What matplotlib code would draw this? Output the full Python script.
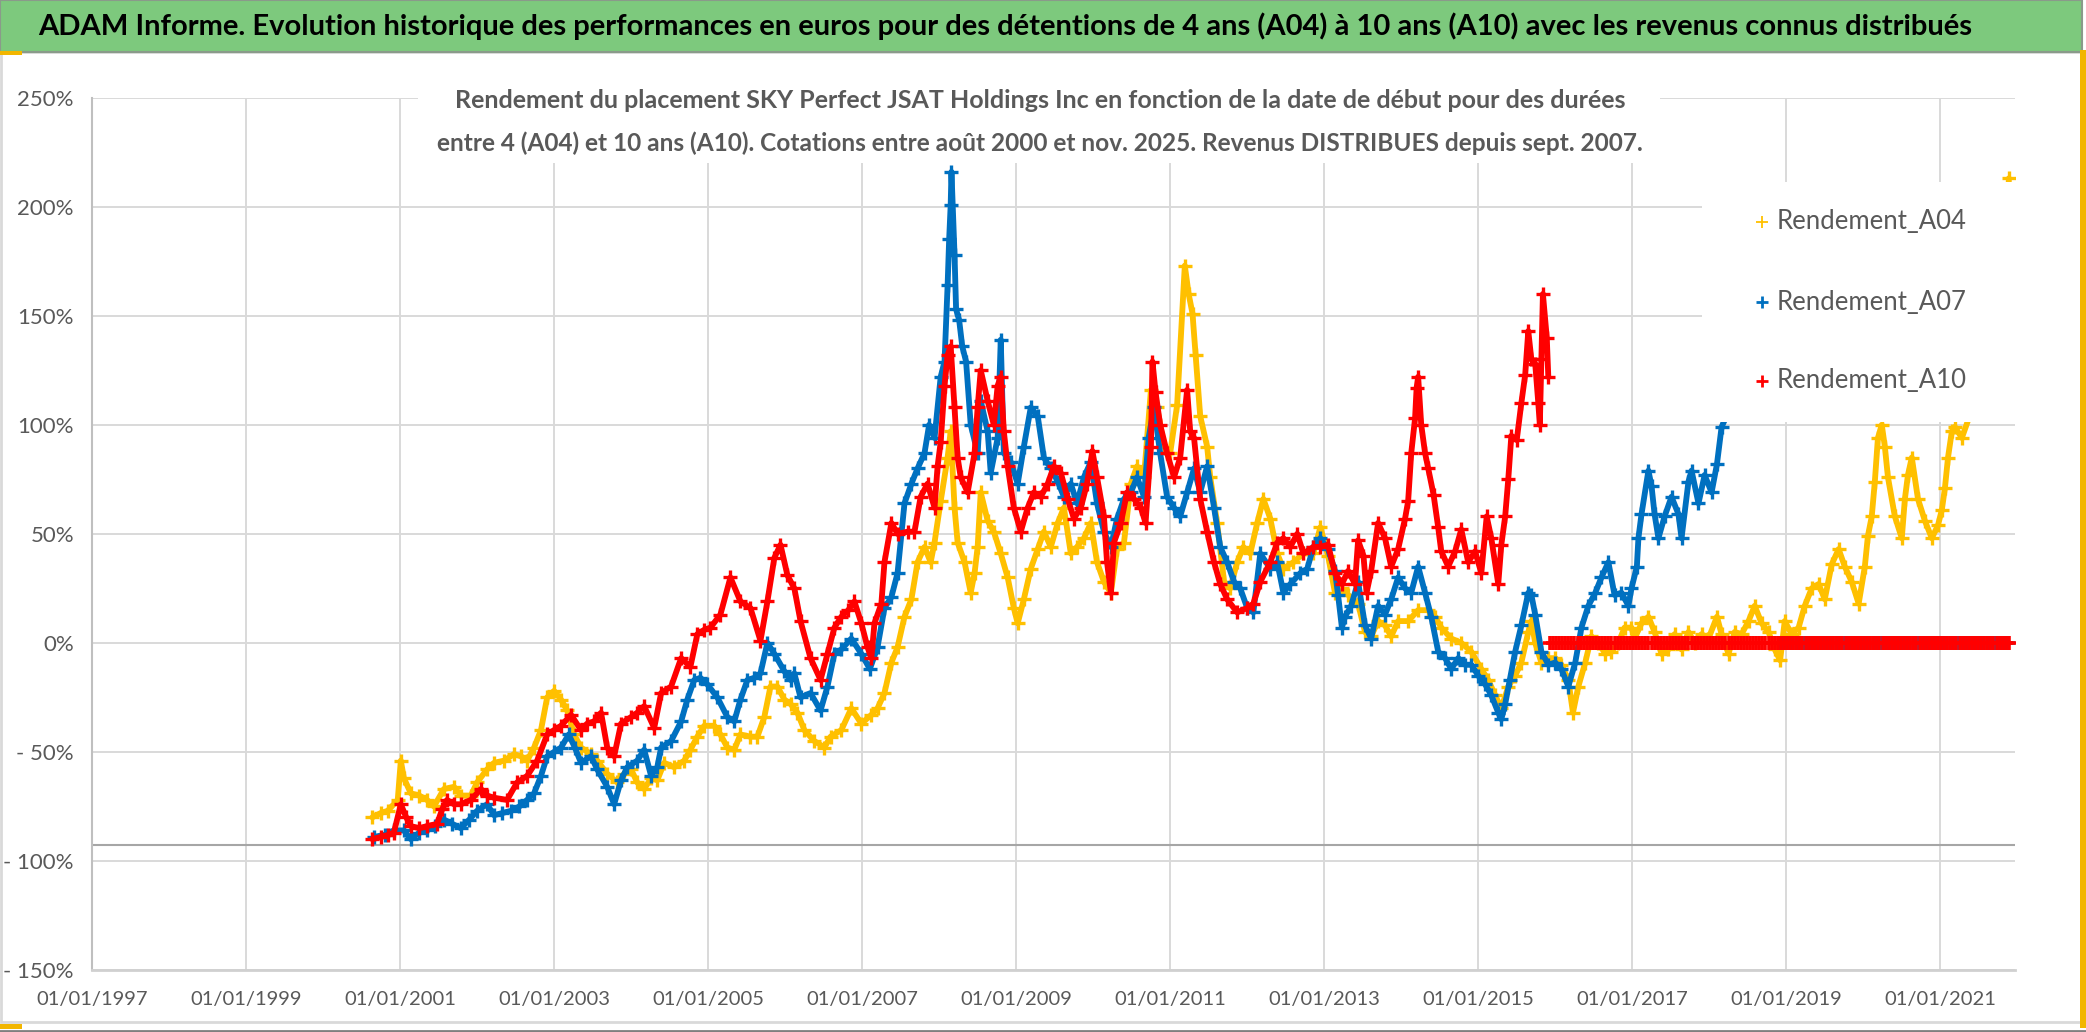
import matplotlib
matplotlib.use('Agg')
import matplotlib.pyplot as plt
from matplotlib.patches import Rectangle
from matplotlib.lines import Line2D
import numpy as np

# ---------------- data (decimal years, % return) ----------------
a04_year = [2000.64, 2000.75, 2000.84, 2000.97, 2001.01, 2001.05, 2001.14, 2001.25, 2001.35, 2001.44,
            2001.57, 2001.70, 2001.79, 2001.92, 2002.00, 2002.13, 2002.22, 2002.35, 2002.48, 2002.57,
            2002.65, 2002.74, 2002.83, 2002.91, 2003.00, 2003.09, 2003.17, 2003.26, 2003.35, 2003.48,
            2003.56, 2003.69, 2003.82, 2003.91, 2004.00, 2004.08, 2004.17, 2004.26, 2004.34, 2004.43,
            2004.56, 2004.69, 2004.77, 2004.86, 2004.95, 2005.08, 2005.16, 2005.25, 2005.34, 2005.42,
            2005.55, 2005.64, 2005.73, 2005.81, 2005.90, 2005.99, 2006.07, 2006.16, 2006.25, 2006.38,
            2006.51, 2006.59, 2006.73, 2006.86, 2006.99, 2007.12, 2007.20, 2007.29, 2007.38, 2007.46,
            2007.55, 2007.64, 2007.72, 2007.81, 2007.89, 2007.94, 2008.02, 2008.11, 2008.15, 2008.20,
            2008.24, 2008.33, 2008.41, 2008.46, 2008.50, 2008.54, 2008.63, 2008.71, 2008.80, 2008.89,
            2008.97, 2009.02, 2009.10, 2009.19, 2009.28, 2009.36, 2009.45, 2009.54, 2009.62, 2009.71,
            2009.79, 2009.88, 2009.97, 2010.05, 2010.14, 2010.23, 2010.31, 2010.40, 2010.49, 2010.57,
            2010.66, 2010.75, 2010.83, 2010.92, 2011.00, 2011.09, 2011.19, 2011.24, 2011.29, 2011.33,
            2011.39, 2011.48, 2011.52, 2011.61, 2011.70, 2011.78, 2011.87, 2011.95, 2012.04, 2012.13,
            2012.21, 2012.30, 2012.39, 2012.47, 2012.60, 2012.73, 2012.86, 2012.95, 2013.05, 2013.14,
            2013.23, 2013.31, 2013.44, 2013.53, 2013.61, 2013.70, 2013.79, 2013.87, 2013.96, 2014.09,
            2014.22, 2014.35, 2014.44, 2014.52, 2014.65, 2014.78, 2014.91, 2015.04, 2015.13, 2015.22,
            2015.30, 2015.39, 2015.48, 2015.56, 2015.65, 2015.69, 2015.74, 2015.82, 2015.91, 2016.00,
            2016.08, 2016.17, 2016.23, 2016.30, 2016.39, 2016.47, 2016.56, 2016.65, 2016.73, 2016.82,
            2016.90, 2016.99, 2017.03, 2017.12, 2017.21, 2017.29, 2017.38, 2017.47, 2017.55, 2017.64,
            2017.73, 2017.81, 2017.90, 2017.99, 2018.10, 2018.16, 2018.25, 2018.33, 2018.42, 2018.51,
            2018.59, 2018.68, 2018.77, 2018.85, 2018.92, 2018.98, 2019.07, 2019.16, 2019.24, 2019.33,
            2019.42, 2019.50, 2019.59, 2019.68, 2019.76, 2019.85, 2019.94, 2020.02, 2020.06, 2020.11,
            2020.15, 2020.19, 2020.24, 2020.28, 2020.32, 2020.41, 2020.50, 2020.54, 2020.58, 2020.63,
            2020.71, 2020.80, 2020.89, 2020.97, 2021.02, 2021.06, 2021.10, 2021.15, 2021.19, 2021.28,
            2021.40, 2021.55, 2021.70, 2021.80, 2021.89]
a04_value = [-80, -78, -77, -72, -54, -62, -69, -70, -72, -75,
             -67, -66, -70, -70, -64, -58, -55, -54, -51, -52,
             -54, -48, -40, -25, -22, -26, -31, -42, -48, -51,
             -54, -60, -64, -60, -58, -64, -67, -62, -63, -55,
             -57, -54, -49, -43, -38, -38, -42, -48, -49, -42,
             -43, -43, -34, -20, -20, -26, -28, -32, -40, -45,
             -48, -43, -40, -30, -37, -33, -30, -23, -9, -2,
             12, 20, 37, 44, 37, 46, 65, 85, 97, 62,
             46, 37, 23, 32, 44, 69, 56, 51, 41, 30,
             16, 9, 20, 34, 43, 51, 44, 55, 62, 41,
             44, 48, 55, 37, 28, 23, 43, 46, 73, 81,
             76, 116, 108, 90, 87, 109, 173, 160, 151, 132,
             104, 90, 76, 55, 28, 25, 37, 44, 41, 55,
             66, 57, 41, 34, 37, 41, 41, 53, 40, 23,
             25, 22, 18, 5, 3, 10, 8, 3, 10, 10,
             15, 15, 12, 7, 2, 0, -4, -12, -17, -24,
             -30, -20, -15, -9, 5, 10, 0, -9, -7, -7,
             -10, -17, -32, -20, -9, 3, 0, -5, -4, 0,
             7, 7, 2, 9, 12, 5, -5, -3, 4, -3,
             5, 0, 4, 2, 12, 4, -5, 5, 4, 10,
             17, 9, 5, -3, -8, 10, 4, 7, 17, 25,
             27, 20, 36, 43, 35, 28, 18, 35, 49, 58,
             74, 94, 100, 90, 76, 58, 48, 66, 77, 85,
             66, 56, 48, 54, 61, 71, 85, 97, 99, 94,
             106, 115, 110, 118, 213]

a07_year = [2000.66, 2000.80, 2000.92, 2001.05, 2001.14, 2001.25, 2001.35, 2001.46, 2001.57, 2001.68,
            2001.79, 2001.90, 2002.00, 2002.13, 2002.22, 2002.33, 2002.44, 2002.55, 2002.65, 2002.74,
            2002.83, 2002.91, 2003.00, 2003.09, 2003.19, 2003.27, 2003.35, 2003.48, 2003.56, 2003.69,
            2003.78, 2003.87, 2003.95, 2004.08, 2004.17, 2004.26, 2004.34, 2004.39, 2004.52, 2004.65,
            2004.73, 2004.82, 2004.90, 2004.99, 2005.12, 2005.25, 2005.34, 2005.42, 2005.51, 2005.60,
            2005.68, 2005.77, 2005.86, 2005.99, 2006.07, 2006.12, 2006.20, 2006.33, 2006.46, 2006.55,
            2006.64, 2006.73, 2006.86, 2006.99, 2007.10, 2007.20, 2007.29, 2007.38, 2007.46, 2007.55,
            2007.64, 2007.72, 2007.81, 2007.87, 2007.94, 2008.02, 2008.07, 2008.11, 2008.13, 2008.15,
            2008.16, 2008.20, 2008.22, 2008.26, 2008.30, 2008.35, 2008.41, 2008.50, 2008.54, 2008.63,
            2008.67, 2008.76, 2008.80, 2008.84, 2008.93, 2009.02, 2009.10, 2009.19, 2009.28, 2009.36,
            2009.45, 2009.54, 2009.62, 2009.71, 2009.79, 2009.88, 2009.97, 2010.05, 2010.14, 2010.23,
            2010.31, 2010.40, 2010.49, 2010.57, 2010.66, 2010.72, 2010.79, 2010.87, 2010.96, 2011.05,
            2011.13, 2011.22, 2011.31, 2011.39, 2011.48, 2011.57, 2011.65, 2011.74, 2011.83, 2011.91,
            2012.00, 2012.08, 2012.17, 2012.30, 2012.39, 2012.47, 2012.56, 2012.69, 2012.78, 2012.86,
            2012.95, 2013.05, 2013.14, 2013.18, 2013.23, 2013.27, 2013.35, 2013.44, 2013.53, 2013.61,
            2013.70, 2013.79, 2013.87, 2013.96, 2014.05, 2014.13, 2014.22, 2014.31, 2014.39, 2014.48,
            2014.57, 2014.65, 2014.74, 2014.83, 2014.91, 2015.00, 2015.09, 2015.17, 2015.26, 2015.30,
            2015.35, 2015.41, 2015.48, 2015.56, 2015.65, 2015.69, 2015.74, 2015.82, 2015.91, 2016.00,
            2016.08, 2016.17, 2016.26, 2016.34, 2016.43, 2016.52, 2016.60, 2016.69, 2016.77, 2016.86,
            2016.95, 2016.99, 2017.06, 2017.08, 2017.12, 2017.21, 2017.25, 2017.29, 2017.34, 2017.42,
            2017.51, 2017.60, 2017.64, 2017.73, 2017.77, 2017.86, 2017.94, 2018.03, 2018.10, 2018.16,
            2018.30, 2018.45, 2018.60, 2018.75, 2018.88]
a07_value = [-89, -88, -86, -86, -90, -87, -86, -84, -81, -83,
             -85, -81, -77, -74, -79, -78, -77, -75, -72, -69,
             -61, -52, -50, -48, -42, -48, -55, -52, -58, -66,
             -74, -63, -57, -54, -49, -61, -57, -48, -45, -36,
             -26, -17, -16, -19, -25, -34, -36, -26, -17, -16,
             -14, 0, -5, -13, -17, -14, -25, -23, -31, -20,
             -5, -3, 2, -5, -12, -2, 16, 21, 32, 64,
             73, 80, 87, 100, 94, 122, 129, 164, 185, 201,
             216, 178, 153, 148, 136, 129, 100, 87, 111, 97,
             78, 94, 139, 87, 83, 73, 90, 108, 104, 85,
             80, 74, 67, 73, 64, 76, 83, 64, 51, 44,
             57, 66, 69, 76, 67, 94, 108, 87, 67, 62,
             58, 69, 80, 69, 81, 62, 44, 37, 28, 25,
             16, 14, 41, 34, 37, 23, 27, 32, 34, 44,
             48, 43, 33, 22, 7, 12, 17, 28, 8, 2,
             17, 13, 20, 30, 25, 23, 35, 23, 12, -4,
             -7, -12, -7, -10, -10, -15, -19, -24, -32, -35,
             -28, -17, -4, 8, 23, 22, 13, -4, -10, -9,
             -12, -20, -9, 7, 17, 23, 30, 37, 22, 23,
             17, 25, 35, 48, 59, 79, 72, 59, 48, 58,
             67, 59, 48, 74, 79, 64, 77, 69, 82, 99,
             110, 115, 112, 118, 115]

a10_year = [2000.64, 2000.75, 2000.85, 2000.92, 2001.01, 2001.08, 2001.14, 2001.25, 2001.35, 2001.48,
            2001.55, 2001.61, 2001.70, 2001.79, 2001.92, 2002.05, 2002.13, 2002.22, 2002.39, 2002.52,
            2002.65, 2002.78, 2002.91, 2003.00, 2003.09, 2003.22, 2003.35, 2003.43, 2003.52, 2003.61,
            2003.69, 2003.78, 2003.87, 2004.00, 2004.08, 2004.17, 2004.30, 2004.39, 2004.52, 2004.65,
            2004.77, 2004.86, 2004.95, 2005.03, 2005.16, 2005.29, 2005.42, 2005.55, 2005.68, 2005.77,
            2005.86, 2005.94, 2006.03, 2006.12, 2006.20, 2006.33, 2006.46, 2006.55, 2006.64, 2006.73,
            2006.82, 2006.90, 2006.99, 2007.07, 2007.12, 2007.16, 2007.25, 2007.29, 2007.38, 2007.46,
            2007.59, 2007.68, 2007.76, 2007.85, 2007.94, 2007.98, 2008.02, 2008.07, 2008.11, 2008.15,
            2008.20, 2008.24, 2008.28, 2008.37, 2008.46, 2008.50, 2008.54, 2008.63, 2008.71, 2008.76,
            2008.80, 2008.84, 2008.89, 2008.97, 2009.06, 2009.15, 2009.23, 2009.32, 2009.41, 2009.49,
            2009.58, 2009.67, 2009.75, 2009.84, 2009.92, 2009.99, 2010.05, 2010.14, 2010.18, 2010.23,
            2010.27, 2010.36, 2010.44, 2010.53, 2010.62, 2010.68, 2010.75, 2010.77, 2010.81, 2010.87,
            2010.96, 2011.05, 2011.13, 2011.22, 2011.26, 2011.31, 2011.39, 2011.48, 2011.57, 2011.65,
            2011.74, 2011.87, 2012.00, 2012.08, 2012.17, 2012.30, 2012.39, 2012.47, 2012.56, 2012.65,
            2012.73, 2012.86, 2012.95, 2013.05, 2013.14, 2013.23, 2013.31, 2013.40, 2013.44, 2013.51,
            2013.55, 2013.61, 2013.70, 2013.79, 2013.87, 2013.96, 2014.05, 2014.09, 2014.13, 2014.18,
            2014.20, 2014.22, 2014.26, 2014.31, 2014.35, 2014.42, 2014.48, 2014.52, 2014.61, 2014.70,
            2014.78, 2014.87, 2014.96, 2015.04, 2015.11, 2015.17, 2015.26, 2015.30, 2015.35, 2015.39,
            2015.43, 2015.50, 2015.56, 2015.61, 2015.65, 2015.69, 2015.74, 2015.78, 2015.80, 2015.82,
            2015.84, 2015.89, 2015.91]
a10_value = [-90, -89, -88, -87, -74, -80, -84, -85, -84, -83,
             -76, -72, -74, -74, -72, -67, -70, -71, -72, -64,
             -61, -54, -42, -40, -38, -33, -40, -37, -36, -32,
             -48, -52, -37, -34, -32, -29, -39, -23, -20, -7,
             -11, 4, 6, 7, 13, 30, 19, 16, 1, 19,
             39, 45, 31, 25, 10, -7, -17, -5, 7, 12,
             15, 19, 9, -2, -7, 9, 18, 37, 55, 50,
             51, 51, 67, 73, 62, 81, 92, 118, 132, 136,
             108, 85, 76, 69, 87, 108, 125, 111, 100, 118,
             122, 97, 81, 62, 51, 62, 69, 67, 73, 81,
             78, 66, 57, 62, 73, 88, 76, 58, 37, 23,
             46, 55, 69, 66, 62, 55, 90, 129, 115, 100,
             87, 76, 85, 116, 97, 94, 66, 51, 37, 27,
             20, 14, 16, 18, 28, 37, 46, 48, 44, 50,
             41, 44, 44, 45, 32, 27, 33, 27, 47, 40,
             23, 33, 55, 48, 35, 43, 57, 65, 87, 103,
             117, 122, 100, 87, 80, 68, 53, 42, 35, 42,
             52, 37, 42, 32, 58, 48, 27, 45, 58, 75,
             95, 93, 110, 123, 143, 130, 128, 110, 100, 130,
             160, 140, 122]

# holding periods not yet completed are reported as 0 % up to the last start date
a07_zero_from, a10_zero_from, last_start = 2018.92, 2015.93, 2021.89
a07_zero_year = np.arange(a07_zero_from, last_start, 0.04)
a10_zero_year = np.arange(a10_zero_from, last_start, 0.04)

series_names = ['Rendement_A04', 'Rendement_A07', 'Rendement_A10']
colors = ['#FFC000', '#0070C0', '#FF0000']
xticks = list(range(1997, 2022, 2))
yticks = list(range(-150, 251, 50))
ref_line = -92.7

title = ("ADAM Informe. Evolution historique des performances en euros pour des détentions "
         "de 4 ans (A04) à 10 ans (A10) avec les revenus connus distribués")
subtitle1 = "Rendement du placement SKY Perfect JSAT Holdings Inc en fonction de la date de début pour des durées"
subtitle2 = "entre 4 (A04) et 10 ans (A10). Cotations entre août 2000 et nov. 2025. Revenus DISTRIBUES depuis sept. 2007."

# ---------------- figure ----------------
W, H = 2086, 1032
fig = plt.figure(figsize=(W / 100, H / 100), dpi=100)
fig.patch.set_facecolor('white')
FONT = 'Lato'
GREY = '#595959'


def fx(px):
    return px / W


def fy(py):
    return 1 - py / H


ax = fig.add_axes([fx(92), fy(970), fx(2015) - fx(92), fy(97.7) - fy(970)])
ax.set_xlim(1997.0, 2021.97)
ax.set_ylim(-150, 250)
ax.set_xticks(xticks)
ax.set_xticklabels([f"01/01/{y}" for y in xticks])
ax.set_yticks(yticks)
ax.set_yticklabels([(f"- {abs(v)}%" if v < 0 else f"{v}%") for v in yticks])
ax.tick_params(length=0, labelcolor=GREY)
ax.tick_params(axis='y', pad=13, labelsize=16)
ax.tick_params(axis='x', pad=15, labelsize=14.5)
for lab in ax.get_xticklabels() + ax.get_yticklabels():
    lab.set_family(FONT)
ax.grid(True, color='#D9D9D9', lw=1.4, zorder=0)
ax.set_axisbelow(True)
for s in ['top', 'right']:
    ax.spines[s].set_visible(False)
ax.spines['left'].set_color('#BFBFBF')
ax.spines['left'].set_linewidth(1.5)
ax.spines['bottom'].set_color('#D0D0D0')
ax.spines['bottom'].set_linewidth(2)
ax.axhline(ref_line, color='#A6A6A6', lw=1.5, zorder=1)

# dense '+' clouds: markers on a thick trace of the same colour
mk = dict(marker='+', ms=10.5, mew=2.4, lw=4.2, solid_joinstyle='round', solid_capstyle='round')
ax.plot(a04_year, a04_value, color=colors[0], zorder=3, **mk)
ax.plot(a07_year, a07_value, color=colors[1], zorder=4, **mk)
ax.plot(a07_zero_year, np.zeros(len(a07_zero_year)), color=colors[1], zorder=4, linestyle='none',
        marker='+', ms=10.5, mew=2.6)
ax.plot(a10_year, a10_value, color=colors[2], zorder=5, **mk)
ax.plot(a10_zero_year, np.zeros(len(a10_zero_year)), color=colors[2], zorder=5, linestyle='none',
        marker='+', ms=10.5, mew=2.6)

# ---------------- frame / banner ----------------
fig.patches.append(Rectangle((fx(1), fy(1022)), fx(2080), fy(52) - fy(1022), transform=fig.transFigure,
                             facecolor='none', edgecolor='#D9D9D9', lw=2, zorder=1))
fig.patches.append(Rectangle((0, fy(52)), fx(2082), 52 / H, transform=fig.transFigure,
                             facecolor='#7DC97D', edgecolor='#8a9a8a', lw=1.5, zorder=2))
fig.patches.append(Rectangle((fx(2080), fy(1028)), fx(6), fy(50) - fy(1028), transform=fig.transFigure,
                             facecolor='#F2B600', edgecolor='none', zorder=3))
fig.patches.append(Rectangle((0, fy(1029)), fx(22), 5 / H, transform=fig.transFigure,
                             facecolor='#F2B600', edgecolor='none', zorder=3))
fig.patches.append(Rectangle((0, fy(55)), fx(22), 4 / H, transform=fig.transFigure,
                             facecolor='#F2B600', edgecolor='none', zorder=3))
fig.add_artist(Line2D([0, 1], [fy(1030.5), fy(1030.5)], color='#7F7F7F', lw=2, zorder=3))

fig.text(fx(1005), fy(26), title, ha='center', va='center', fontsize=21, fontweight='bold',
         family=FONT, color='black', zorder=4)

# subtitle box
fig.patches.append(Rectangle((fx(418), fy(163)), fx(1660) - fx(418), fy(80) - fy(163),
                             transform=fig.transFigure, facecolor='white', edgecolor='none', zorder=5))
fig.text(fx(1040), fy(100), subtitle1, ha='center', va='center', fontsize=18, fontweight='bold',
         family=FONT, color=GREY, zorder=6)
fig.text(fx(1040), fy(143), subtitle2, ha='center', va='center', fontsize=17.6, fontweight='bold',
         family=FONT, color=GREY, zorder=6)

# legend box (drawn over the data, as in the original)
fig.patches.append(Rectangle((fx(1702), fy(422)), fx(2015) - fx(1702), fy(182) - fy(422),
                             transform=fig.transFigure, facecolor='white', edgecolor='none', zorder=5))
leg_y = [222, 302, 381]
leg_mew = [1.3, 2.0, 2.0]
for name, c, yy, mw in zip(series_names, colors, leg_y, leg_mew):
    fig.add_artist(Line2D([fx(1762)], [fy(yy)], marker='+', ms=8, mew=mw, color=c, linestyle='none',
                          zorder=6))
    fig.text(fx(1777), fy(yy), name, ha='left', va='center', fontsize=18.5, family=FONT,
             color=GREY, zorder=6)

fig.savefig('out.png', dpi=100)
